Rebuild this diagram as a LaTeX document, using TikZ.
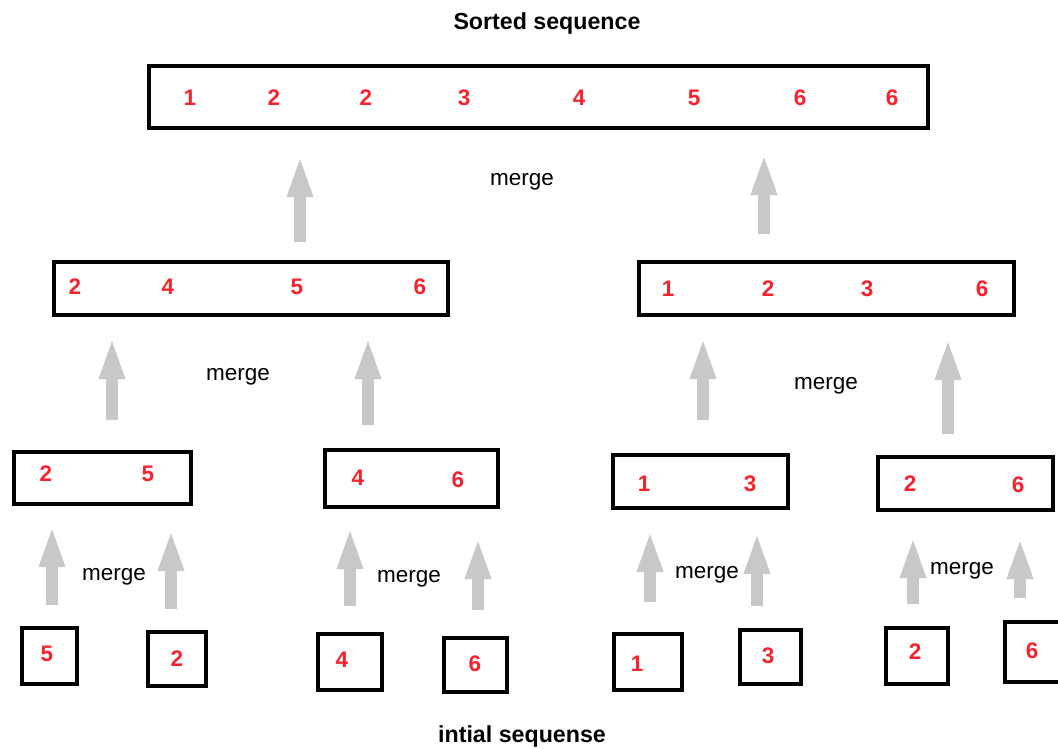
\documentclass[tikz,border=0pt]{standalone}
\usepackage{fontspec}
\setmainfont{Liberation Sans}
\usepackage{xcolor}
\usepackage{tikz}
\usetikzlibrary{arrows.meta}
\definecolor{numred}{RGB}{245,35,45}
\definecolor{arrgray}{RGB}{200,200,200}

\begin{document}
\begin{tikzpicture}[x=0.025cm, y=-0.025cm,
        box/.style={draw, line width=0.1cm, inner sep=0pt},
        num/.style={text=numred, font=\fontsize{16}{18}\selectfont\bfseries},
        lbl/.style={font=\fontsize{16}{18}\selectfont},
        ttl/.style={font=\fontsize{16.5}{18}\selectfont\bfseries},
        uparr/.style={arrgray, line width=0.3cm, -{Triangle[length=1.05cm, width=0.58cm]}}]
            \useasboundingbox (0,0) rectangle (1058,749);

            \node[ttl] (top) at (547,24) {Sorted sequence};
            \node[ttl] (bottom) at (522,736) {intial sequense};

            % sorted
            \node[box, minimum width=19.475cm, minimum height=1.55cm] (s) at (538.5,97) {};
            \foreach \x/\n in {190/1, 274/2, 366/2, 464/3, 579/4, 694/5, 800/6, 892/6}
                \node[num] at (\x,98) {\n};

            % halves
            \node[box, minimum width=9.85cm, minimum height=1.325cm] (hl) at (251,288.5) {};
            \node[box, minimum width=9.375cm, minimum height=1.325cm] (hr) at (826.5,288.5) {};
            \foreach \x/\n in {75/2, 168/4, 297/5, 420/6}
                \node[num] at (\x,287) {\n};
            \foreach \x/\n in {668/1, 768/2, 867/3, 982/6}
                \node[num] at (\x,289) {\n};

            % pairs
            \node[box, minimum width=4.425cm, minimum height=1.3cm] (pa) at (102.5,478) {};
            \node[box, minimum width=4.325cm, minimum height=1.425cm] (pb) at (411.5,478.5) {};
            \node[box, minimum width=4.375cm, minimum height=1.325cm] (pc) at (700.5,481.5) {};
            \node[box, minimum width=4.375cm, minimum height=1.325cm] (pd) at (965.5,483.5) {};
            \foreach \x/\y/\n in {46/474/2, 148/474/5, 358/478/4, 458/480/6,
                                  644/484/1, 750/484/3, 910/484/2, 1018/485/6}
                \node[num] at (\x,\y) {\n};

            % singles
            \node[box, minimum width=1.375cm, minimum height=1.4cm] (l1) at (49.5,656) {};
            \node[box, minimum width=1.45cm, minimum height=1.35cm] (l2) at (177,659) {};
            \node[box, minimum width=1.6cm, minimum height=1.4cm] (l3) at (350,662) {};
            \node[box, minimum width=1.575cm, minimum height=1.35cm] (l4) at (475.5,665) {};
            \node[box, minimum width=1.7cm, minimum height=1.4cm] (l5) at (648,662) {};
            \node[box, minimum width=1.525cm, minimum height=1.35cm] (l6) at (770.5,657) {};
            \node[box, minimum width=1.55cm, minimum height=1.4cm] (l7) at (917,656) {};
            \node[box, minimum width=1.375cm, minimum height=1.5cm] (l8) at (1032,652) {};
            \foreach \x/\y/\n in {47/654/5, 177/659/2, 342/660/4, 475/664/6,
                                  637/664/1, 768/656/3, 915/652/2, 1032/651/6}
                \node[num] at (\x,\y) {\n};

            % arrows
            \foreach \i/\x/\a/\b in {1/300/242/155, 2/764/234/153,
                                     3/112/420/337, 4/368/425/337, 5/703/420/337, 6/948/434/338,
                                     7/52/605/525, 8/171/609/529, 9/350/606/527, 10/478/610/537,
                                     11/650/602/530, 12/757/606/532, 13/913/604/536, 14/1020/598/537} {
                \coordinate (f\i) at (\x,\a);
                \coordinate (t\i) at (\x,\b);
                \draw[uparr] (f\i) -- (t\i);
            }

            \node[lbl] (m1) at (522,182) {merge};
            \node[lbl] (m2) at (238,377) {merge};
            \node[lbl] (m3) at (826,386) {merge};
            \node[lbl] (m4) at (114,577) {merge};
            \node[lbl] (m5) at (409,579) {merge};
            \node[lbl] (m6) at (707,575) {merge};
            \node[lbl] (m7) at (962,571) {merge};
        \end{tikzpicture}
\end{document}
